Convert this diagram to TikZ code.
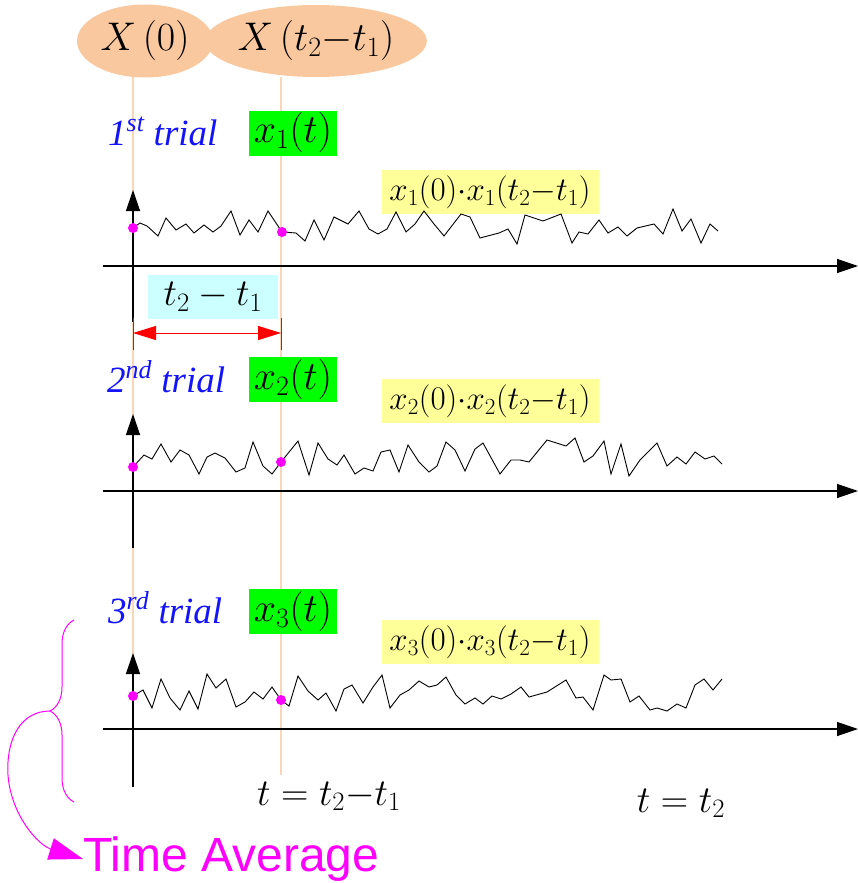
\documentclass[tikz,border=0pt]{standalone}
\usepackage{fix-cm}
\usepackage{fontspec}
\setmainfont{Liberation Serif}
\newfontfamily\avgfont{Liberation Sans}
\usepackage{tikz}
\usetikzlibrary{arrows.meta,positioning,shapes.geometric,decorations.pathreplacing}

\definecolor{peach}{RGB}{249,200,158}
\definecolor{guidecol}{RGB}{250,214,184}
\definecolor{trialblue}{RGB}{20,20,250}
\definecolor{sigbox}{RGB}{0,255,0}
\definecolor{prodbox}{RGB}{255,255,153}
\definecolor{gapbox}{RGB}{204,255,255}
\definecolor{avgcol}{RGB}{255,0,255}

\begin{document}
\begin{tikzpicture}[
  x=1pt, y=-1pt,
  ell/.style={ellipse, fill=peach, inner sep=0pt, font=\fontsize{40}{44}\selectfont},
  trl/.style={anchor=base west, text=trialblue, inner sep=0pt,
              font=\fontsize{37}{42}\selectfont\itshape},
  grn/.style={fill=sigbox, minimum width=88pt, minimum height=45pt, inner sep=0pt,
              font=\fontsize{40}{44}\selectfont},
  prod/.style={fill=prodbox, minimum width=217pt, minimum height=44pt, inner sep=0pt,
               font=\fontsize{33}{36}\selectfont},
  gap/.style={fill=gapbox, minimum width=130pt, minimum height=44pt, inner sep=0pt,
              font=\fontsize{38}{42}\selectfont},
  lbl/.style={anchor=base, inner sep=0pt, font=\fontsize{38}{42}\selectfont},
  guide/.style={guidecol, line width=1.4pt},
  axis/.style={-{Triangle[length=21pt, width=14pt]}, line width=1.3pt},
  sig/.style={line width=0.9pt, line join=miter},
  dot/.style={circle, fill=avgcol, inner sep=0pt, minimum size=10pt},
  dim/.style={{Triangle[length=23pt, width=14pt]}-{Triangle[length=23pt, width=14pt]},
              red, line width=1pt},
  brc/.style={avgcol, line width=1pt, decorate, decoration={brace, amplitude=24pt}},
  avgarr/.style={-{Triangle[length=34pt, width=22pt]}, avgcol, line width=1pt},
  avg/.style={anchor=west, inner sep=0pt, text=avgcol, font=\fontsize{48}{52}\selectfont\avgfont}
]
\useasboundingbox (0,0) rectangle (858,883);

% guide lines from the two samples
\coordinate (g0) at (133,77);
\coordinate (g0e) at (133,787);
\coordinate (g1) at (281,77);
\coordinate (g1e) at (281,775);
\draw[guide] (g0) -- (g0e);
\draw[guide] (g1) -- (g1e);

\node[ell, minimum width=136pt, minimum height=73pt] (x0) at (145,41) {$X\,(0)$};
\node[ell, minimum width=203pt, minimum height=72pt] (xd) at (316,41) {$X\,(t_2{-}t_1)$};

% trials
\node[trl] (trial1) at (108,145) {1\textsuperscript{st} trial};
\node[trl] (trial2) at (107,392) {2\textsuperscript{nd} trial};
\node[trl] (trial3) at (108,623) {3\textsuperscript{rd} trial};

\node[grn] (s1) at (293,133) {$x_1(t)$};
\node[grn] (s2) at (293,379) {$x_2(t)$};
\node[grn] (s3) at (293,611) {$x_3(t)$};

\node[prod] (p1) at (490,192) {$x_1(0){\cdot}x_1(t_2{-}t_1)$};
\node[prod] (p2) at (490,401) {$x_2(0){\cdot}x_2(t_2{-}t_1)$};
\node[prod] (p3) at (490,642) {$x_3(0){\cdot}x_3(t_2{-}t_1)$};

% axes
\foreach \ay/\vb/\vt in {266/322/190, 491/548/414, 729/787/653} {
  \draw[axis] (103,\ay) -- (858,\ay);
  \draw[axis] (133,\vb) -- (133,\vt);
}

% sample paths
\draw[sig] plot coordinates {(133,228) (140,223) (147,226) (158,236) (166,218) (176,230)
  (186,224) (194,233) (204,225) (213,232) (221,226) (231,211) (240,235) (249,220) (258,232)
  (268,211) (282,232) (296,233) (305,241) (314,220) (324,240) (334,217) (348,224) (359,211)
  (369,229) (378,234) (387,229) (396,212) (406,232) (415,224) (424,211) (434,224) (444,236)
  (461,214) (470,217) (480,238) (499,233) (508,229) (517,244) (525,215) (543,221) (561,214)
  (572,243) (579,232) (588,234) (599,220) (608,233) (618,227) (627,236) (637,228) (654,224)
  (663,234) (673,209) (682,231) (691,219) (701,243) (710,224) (718,231)};
\draw[sig] plot coordinates {(133,467) (144,455) (152,459) (161,444) (171,462) (180,450)
  (189,455) (199,474) (207,457) (215,453) (225,458) (236,472) (245,468) (253,442) (263,466)
  (272,474) (281,462) (298,441) (309,475) (318,443) (328,459) (337,465) (344,455) (355,474)
  (364,468) (373,471) (381,452) (390,450) (399,472) (408,445) (419,462) (429,472) (437,466)
  (446,442) (455,450) (465,471) (475,449) (483,443) (500,474) (511,460) (520,460) (529,462)
  (547,440) (566,446) (575,438) (584,462) (593,456) (604,441) (611,474) (621,444) (629,476)
  (640,460) (657,443) (667,466) (677,457) (686,464) (695,452) (705,459) (714,456) (722,464)};
\draw[sig] plot coordinates {(133,696) (143,690) (152,708) (161,679) (170,698) (180,710)
  (189,691) (198,709) (207,674) (216,688) (226,679) (236,707) (245,702) (254,692) (263,699)
  (272,687) (281,700) (289,706) (298,676) (308,691) (318,700) (326,693) (336,711) (344,689)
  (352,685) (363,703) (373,687) (382,675) (390,708) (400,695) (409,690) (419,681) (429,687)
  (437,685) (446,677) (456,695) (465,704) (475,698) (483,704) (492,696) (501,699) (511,694)
  (521,687) (529,697) (547,692) (566,680) (576,698) (583,697) (593,710) (604,675) (611,680)
  (621,679) (630,702) (639,696) (650,710) (657,708) (667,711) (677,704) (686,708) (695,685)
  (704,679) (713,690) (722,679)};

\foreach \n/\px/\py in {a1/133/228, b1/282/232, a2/133/467, b2/281/462, a3/133/696, b3/281/700}
  \node[dot] (\n) at (\px,\py) {};

% lag between the samples
\node[gap] (gap) at (213,297) {$t_2-t_1$};
\coordinate (d0) at (133,333);
\coordinate (d1) at (281,333);
\draw[red, line width=1pt] (133,318) -- (133,350);
\draw[red, line width=1pt] (281,318) -- (281,350);
\draw[dim] (d0) -- (d1);

\node[lbl] (tlag) at (329,805) {$t=t_2{-}t_1$};
\node[lbl] (tend) at (681,812) {$t=t_2$};

% time average
\draw[brc] (74,802) -- (74,620);
\coordinate (btip) at (50,711);
\node[avg] (avg) at (83,859) {Time Average};
\draw[avgarr] (btip) .. controls (20,711) and (6,740) .. (8,775)
  .. controls (11,815) and (38,845) .. (avg.west);
\end{tikzpicture}
\end{document}
